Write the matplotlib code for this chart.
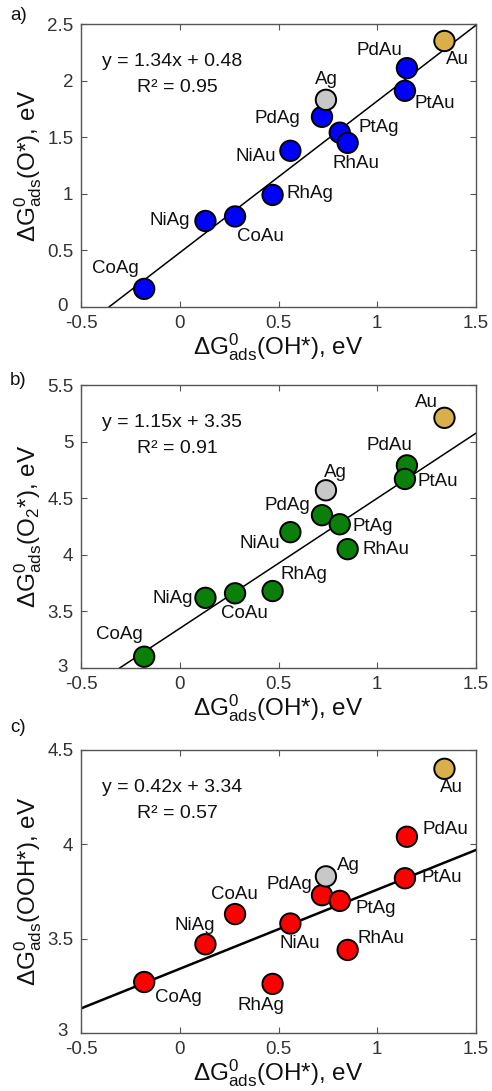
import matplotlib
matplotlib.use("Agg")
import matplotlib.pyplot as plt
import matplotlib.transforms as mtransforms
import numpy as np

plt.rcParams['font.family'] = ['Liberation Sans', 'DejaVu Sans']
plt.rcParams['mathtext.fontset'] = 'custom'
plt.rcParams['mathtext.rm'] = 'Liberation Sans'
plt.rcParams['mathtext.it'] = 'Liberation Sans'

# ---- data ----
names = ["CoAg", "NiAg", "CoAu", "RhAg", "NiAu", "PdAg", "Ag", "PtAg", "RhAu", "PdAu", "PtAu", "Au"]
g_oh = [-0.18, 0.13, 0.28, 0.47, 0.56, 0.72, 0.74, 0.81, 0.85, 1.15, 1.14, 1.34]
g_o = [0.16, 0.76, 0.80, 0.99, 1.38, 1.68, 1.83, 1.54, 1.45, 2.11, 1.91, 2.35]
g_o2 = [3.10, 3.62, 3.66, 3.68, 4.20, 4.35, 4.57, 4.27, 4.05, 4.79, 4.67, 5.21]
g_ooh = [3.27, 3.47, 3.63, 3.26, 3.58, 3.73, 3.83, 3.70, 3.44, 4.04, 3.82, 4.40]

fit_slope = [1.34, 1.15, 0.42]
fit_icpt = [0.48, 3.35, 3.34]
r2 = [0.95, 0.91, 0.57]

ylabels = [r"$\Delta$G$^0_{\mathrm{ads}}$(O*), eV",
           r"$\Delta$G$^0_{\mathrm{ads}}$(O$_2$*), eV",
           r"$\Delta$G$^0_{\mathrm{ads}}$(OOH*), eV"]
xlabel = r"$\Delta$G$^0_{\mathrm{ads}}$(OH*), eV"
panel_tags = ["a)", "b)", "c)"]
yranges = [(0, 2.5), (3, 5.5), (3, 4.5)]
yticks = [[0, 0.5, 1, 1.5, 2, 2.5], [3, 3.5, 4, 4.5, 5, 5.5], [3, 3.5, 4, 4.5]]
yticklabels = [["0", "0.5", "1", "1.5", "2", "2.5"],
               ["3", "3.5", "4", "4.5", "5", "5.5"],
               ["3", "3.5", "4", "4.5"]]
xticks = [-0.5, 0, 0.5, 1, 1.5]
xticklabels = ["-0.5", "0", "0.5", "1", "1.5"]

pt_colors_main = ["#0000ff", "#0a800a", "#ff0000"]
ag_color = "#c8c8c8"
au_color = "#d8af4a"

# label offsets (pixels) per panel, per name
offsets = [
    {"CoAg": (-29, 20), "NiAg": (-36, 0), "CoAu": (25, -20), "RhAg": (37, 1),
     "NiAu": (-35, -6), "PdAg": (-45, -2), "Ag": (0, 20), "PtAg": (39, 5),
     "RhAu": (8, -21), "PdAu": (-28, 18), "PtAu": (30, -13), "Au": (13, -19)},
    {"CoAg": (-25, 22), "NiAg": (-33, -1), "CoAu": (9, -20), "RhAg": (31, 17),
     "NiAu": (-31, -11), "PdAg": (-35, 10), "Ag": (9, 18), "PtAg": (33, -2),
     "RhAu": (38, 0), "PdAu": (-18, 20), "PtAu": (33, -3), "Au": (-18, 15)},
    {"CoAg": (34, -15), "NiAg": (-11, 19), "CoAu": (-1, 20), "RhAg": (-12, -22),
     "NiAu": (9, -20), "PdAg": (-33, 11), "Ag": (22, 11), "PtAg": (36, -8),
     "RhAu": (33, 11), "PdAu": (38, 7), "PtAu": (37, 1), "Au": (7, -19)},
]
line_widths = [1.1, 1.1, 1.8]

W, H = 492, 1091
fig = plt.figure(figsize=(W / 100, H / 100), dpi=100)
axes_boxes = [
    [0.1646, 0.7186, 0.803, 0.2594],
    [0.1646, 0.3877, 0.803, 0.2594],
    [0.1646, 0.0532, 0.803, 0.2594],
]
tag_y_px = [15, 380, 728]
yvals_all = [g_o, g_o2, g_ooh]
frame_col = "#555555"
tick_txt = "#333333"

for i in range(3):
    ax = fig.add_axes(axes_boxes[i])
    yv = yvals_all[i]
    # fit line
    xl = np.array([-0.5, 1.5])
    ax.plot(xl, fit_slope[i] * xl + fit_icpt[i], color="black", lw=line_widths[i], zorder=2)
    cols = []
    for n in names:
        if n == "Ag":
            cols.append(ag_color)
        elif n == "Au":
            cols.append(au_color)
        else:
            cols.append(pt_colors_main[i])
    ax.scatter(g_oh, yv, s=215, c=cols, edgecolors="black", linewidths=1.4, zorder=3)
    for n, x, y in zip(names, g_oh, yv):
        dx, dy = offsets[i][n]
        ax.annotate(n, (x, y), xytext=(dx, dy), textcoords="offset pixels",
                    ha="center", va="center", fontsize=13.5, color="#111111", zorder=4)
    ax.set_xlim(-0.5, 1.5)
    ax.set_ylim(*yranges[i])
    ax.set_xticks(xticks)
    ax.set_xticklabels(xticklabels)
    ax.set_yticks(yticks[i])
    ax.set_yticklabels(yticklabels[i])
    ax.tick_params(direction="in", top=True, right=True, length=4, width=0.8,
                   labelsize=13.5, colors=frame_col, labelcolor=tick_txt)
    ax.tick_params(axis="y", pad=5.5)
    ax.tick_params(axis="x", pad=6)
    # nudge the bottom y tick label left/up (as in the reference corner)
    lab0 = ax.get_yticklabels()[0]
    lab0.set_transform(lab0.get_transform() +
                       mtransforms.ScaledTranslation(-6 / 100, 3 / 100, fig.dpi_scale_trans))
    for sp in ax.spines.values():
        sp.set_color(frame_col)
        sp.set_linewidth(1.0)
    ax.set_xlabel(xlabel, fontsize=17.5, color="#111111", labelpad=-1)
    ax.set_ylabel(ylabels[i], fontsize=17.5, color="#111111", labelpad=2)
    ax.text(0.053, 0.869, f"y = {fit_slope[i]:.2f}x + {fit_icpt[i]:.2f}",
            transform=ax.transAxes, fontsize=14, ha="left", va="center", color="#111111")
    ax.text(0.142, 0.777, f"R\u00b2 = {r2[i]:.2f}", transform=ax.transAxes,
            fontsize=14, ha="left", va="center", color="#111111")
    # panel tag
    fig.text(10 / W, 1 - tag_y_px[i] / H, panel_tags[i], fontsize=13.5,
             ha="left", va="center", color="#111111")

fig.savefig("out.png", dpi=100)
